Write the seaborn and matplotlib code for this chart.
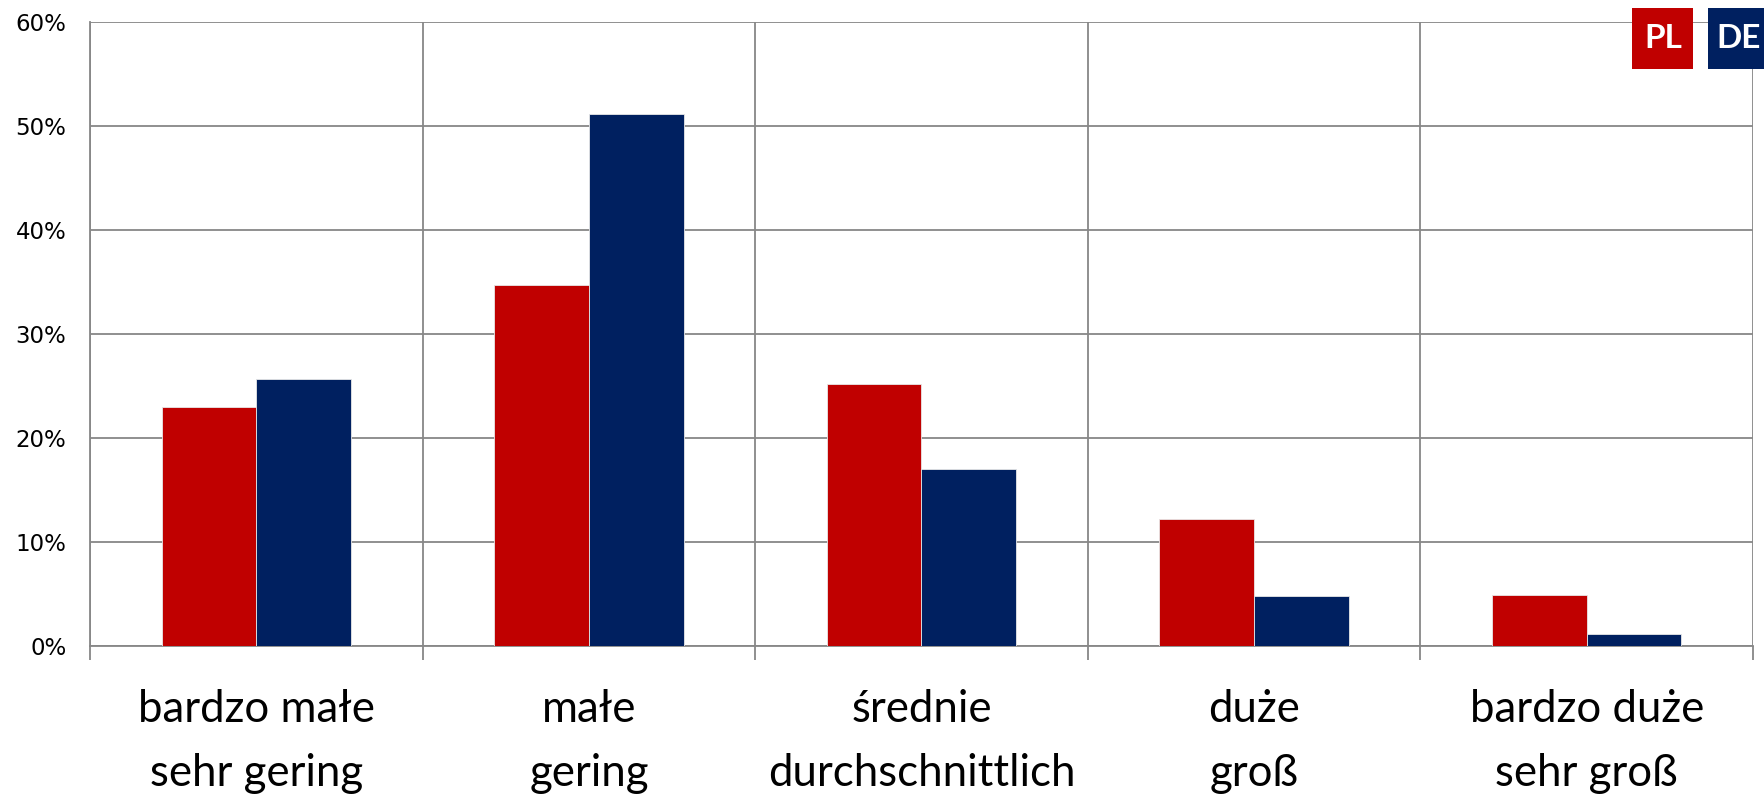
import matplotlib
matplotlib.use("Agg")
import matplotlib.pyplot as plt
import seaborn as sns
import pandas as pd
from matplotlib.patches import Rectangle
from matplotlib.ticker import FuncFormatter, MultipleLocator, FixedLocator

# dane
categories = ["bardzo małe\nsehr gering", "małe\ngering", "średnie\ndurchschnittlich",
              "duże\ngroß", "bardzo duże\nsehr groß"]
pl_values = [23.0, 34.7, 25.2, 12.2, 4.9]
de_values = [25.7, 51.2, 17.05, 4.8, 1.15]
series = ["PL", "DE"]

palette = {"PL": "#C00000", "DE": "#002060"}

df = pd.DataFrame({
    "kategoria": categories * 2,
    "kraj": ["PL"] * len(categories) + ["DE"] * len(categories),
    "wartosc": pl_values + de_values,
})

sns.set_style("white")
plt.rcParams["font.family"] = ["Lato", "DejaVu Sans"]

fig = plt.figure(figsize=(17.65, 7.96), dpi=100)
ax = fig.add_axes([90 / 1765, 1 - 646 / 796, (1753 - 90) / 1765, (646 - 22) / 796])

sns.barplot(
    data=df, x="kategoria", y="wartosc", hue="kraj",
    order=categories, hue_order=series, palette=palette,
    width=0.57, gap=0, saturation=1, edgecolor="#e8e8e8", linewidth=0.6,
    legend=False, ax=ax, zorder=3,
)

ax.set_xlim(-0.5, len(categories) - 0.5)
ax.set_ylim(0, 60)
ax.yaxis.set_major_locator(MultipleLocator(10))
ax.yaxis.set_major_formatter(FuncFormatter(lambda v, p: f"{v:.0f}%"))
ax.set_xlabel("")
ax.set_ylabel("")

# linie podziału kategorii
grid_col = "#878787"
ax.xaxis.set_minor_locator(FixedLocator([i - 0.5 for i in range(len(categories) + 1)]))
ax.grid(axis="y", which="major", color=grid_col, linewidth=1.3, zorder=0)
ax.grid(axis="x", which="minor", color=grid_col, linewidth=1.3, zorder=0)
ax.grid(axis="x", which="major", visible=False)
ax.set_axisbelow(True)

for s in ["top", "right"]:
    ax.spines[s].set_visible(False)
for s in ["left", "bottom"]:
    ax.spines[s].set_color(grid_col)
    ax.spines[s].set_linewidth(1.3)

ax.tick_params(axis="y", which="major", length=6, width=1.3, color=grid_col,
               labelsize=16.5, labelcolor="black", pad=11)
ax.tick_params(axis="x", which="minor", length=10, width=1.3, color=grid_col, bottom=True)
ax.tick_params(axis="x", which="major", length=0, pad=31, labelsize=31.5, labelcolor="black")
for lab in ax.get_yticklabels():
    lab.set_family(["DejaVu Sans"])
for lab in ax.get_xticklabels():
    lab.set_linespacing(1.7)

# legenda jako kolorowe pola
W, H = 1765, 796
for name, x0, x1 in [("PL", 1632, 1693), ("DE", 1708, 1775)]:
    fig.patches.append(Rectangle((x0 / W, 1 - 69 / H), (x1 - x0) / W, 61 / H,
                                 transform=fig.transFigure, facecolor=palette[name],
                                 edgecolor="none", zorder=10))
    fig.text((x0 + 31) / W, 1 - 38.5 / H, name, color="white", fontsize=24,
             fontweight="bold", ha="center", va="center", zorder=11)

plt.savefig("out.png", dpi=100)
plt.close(fig)
